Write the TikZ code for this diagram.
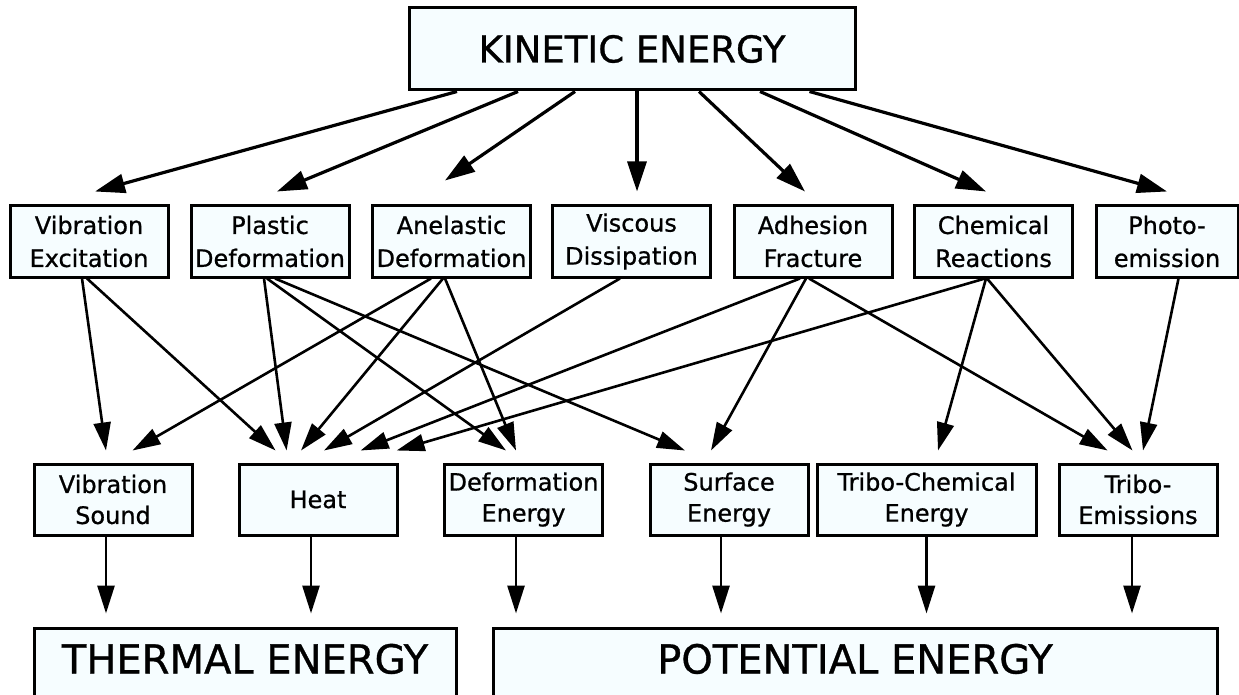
\documentclass[tikz,border=0pt]{standalone}
\usepackage{fontspec}
\setmainfont[FakeBold=0.8]{DejaVu Sans}
\usetikzlibrary{arrows.meta}
\usetikzlibrary{calc}
\usetikzlibrary{positioning}
\definecolor{boxfill}{RGB}{246,253,255}

\begin{document}
\begin{tikzpicture}[x=1pt, y=-1pt,
    box/.style={draw, line width=3pt, fill=boxfill, inner sep=0pt, align=center},
    topbox/.style={box, minimum width=446pt, minimum height=82pt, font=\fontsize{37}{44}\selectfont},
    midbox/.style={box, minimum width=158pt, minimum height=71pt, font=\fontsize{24}{33}\selectfont},
    lowbox/.style={box, minimum width=158pt, minimum height=71pt, font=\fontsize{24}{31}\selectfont},
    basebox/.style={box, minimum height=72pt, text height=29pt, text depth=10pt, font=\fontsize{40}{48}\selectfont},
    toparr/.style={-{Triangle[length=30pt,width=19pt]}, line width=3.2pt},
    midarr/.style={-{Triangle[length=28pt,width=17pt]}, line width=2.6pt},
    lowarr/.style={-{Triangle[length=28pt,width=17pt]}, line width=2.8pt, shorten >=13pt}]
  \useasboundingbox (0,0) rectangle (1239,695);

  % kinetic energy
  \node[topbox] (kin) at (632,49) {KINETIC ENERGY};

  % dissipation mechanisms
  \node[midbox] (vibex)     at (89,241.5)   {Vibration\\Excitation};
  \node[midbox] (plastic)   at (270,241.5)  {Plastic\\Deformation};
  \node[midbox] (anelastic) at (451.5,241.5) {Anelastic\\Deformation};
  \node[midbox] (viscous)   at (631.5,241.5) {Viscous\\Dissipation};
  \node[midbox] (adhesion)  at (813,241.5)  {Adhesion\\Fracture};
  \node[midbox] (chemical)  at (993.5,241.5) {Chemical\\Reactions};
  \node[midbox, minimum width=142pt] (photo) at (1167,241.5) {Photo-\\emission};

  % energy forms
  \node[lowbox] (vibsound)  at (113,499.5)  {Vibration\\Sound};
  \node[lowbox] (heat)      at (318,499.5)  {Heat};
  \node[lowbox] (deform)    at (523.5,499.5) {Deformation\\Energy};
  \node[lowbox] (surface)   at (729,499.5)  {Surface\\Energy};
  \node[lowbox, minimum width=219pt] (tribochem) at (926.5,499.5) {Tribo-Chemical\\Energy};
  \node[lowbox] (triboem)   at (1138,499.5) {Tribo-\\Emissions};

  % final forms
  \node[basebox, minimum width=422pt] (thermal)   at (245,664) {THERMAL ENERGY};
  \node[basebox, minimum width=724pt] (potential) at (855,664) {POTENTIAL ENERGY};

  % kinetic -> mechanisms
  \foreach \a/\t/\b/\h in {-175/vibex/6/13, -114/plastic/7/13, -57/anelastic/-6.5/24,
                           5/viscous/5.5/13, 67/adhesion/-8/13, 128/chemical/-7.5/13,
                           177.5/photo/0/13}
    \draw[toparr] ([xshift=\a pt]kin.south) -- ([xshift=\b pt, yshift=\h pt]\t.north);

  % mechanisms -> energy forms
  \foreach \s/\a/\t/\b in {vibex/-7/vibsound/-7, vibex/-2/heat/-42.4,
                           plastic/-6/heat/-31.4, plastic/-3/deform/-17.5, plastic/5/surface/-44,
                           anelastic/-20.5/vibsound/19.5, anelastic/-8.5/heat/-17, anelastic/-6.5/deform/-7.5,
                           viscous/-11.5/heat/6,
                           adhesion/-13/heat/42.6, adhesion/-7/surface/-18, adhesion/-4/triboem/-30.4,
                           chemical/-8.5/heat/78.6, chemical/-7.5/tribochem/11.5, chemical/-6.5/triboem/-5.5,
                           photo/11.5/triboem/5}
    \draw[midarr] ([xshift=\a pt]\s.south) -- ([xshift=\b pt, yshift=12pt]\t.north);

  % energy forms -> thermal / potential
  \foreach \s/\a/\t in {vibsound/-7/thermal, heat/-7/thermal, deform/-7.5/potential,
                        surface/-8/potential, tribochem/0/potential, triboem/-6/potential}
    \draw[lowarr] ([xshift=\a pt]\s.south) -- ([xshift=\a pt]\s.south |- \t.north);
\end{tikzpicture}
\end{document}
